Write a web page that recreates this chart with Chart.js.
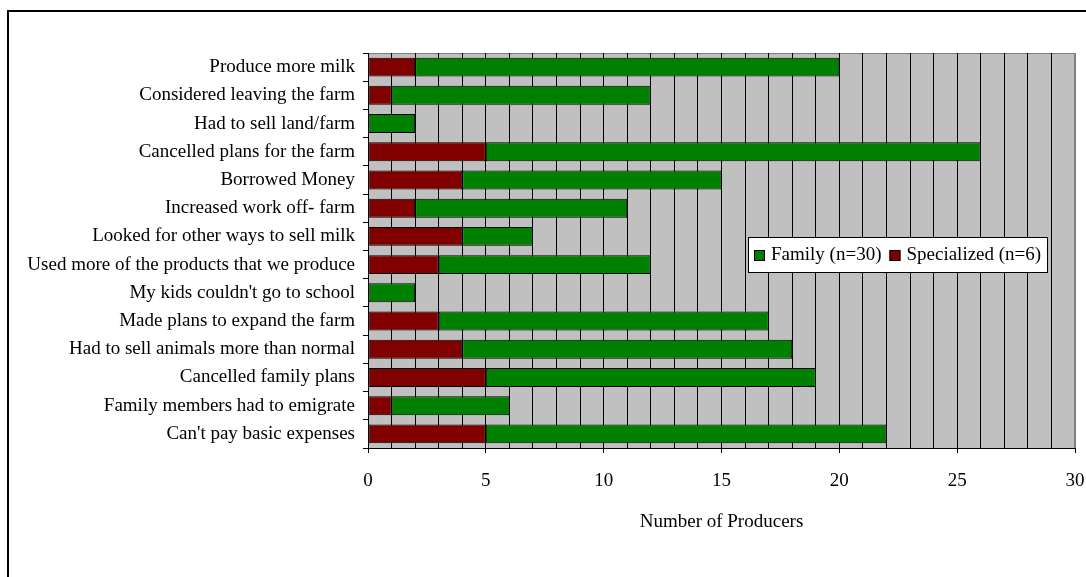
<!DOCTYPE html>
<html>
<head>
<meta charset="utf-8">
<script src="https://cdn.jsdelivr.net/npm/chart.js@4"></script>
<style>
  html, body { margin: 0; padding: 0; background: #fff; }
  #wrap { width: 1086px; height: 577px; position: relative; }
</style>
</head>
<body>
<div id="wrap"><canvas id="c" width="1086" height="577"></canvas></div>
<script>
// Responses of producers, by farm type
const categories = [
  "Produce more milk",
  "Considered leaving the farm",
  "Had to sell land/farm",
  "Cancelled plans for the farm",
  "Borrowed Money",
  "Increased work off- farm",
  "Looked for other ways to sell milk",
  "Used more of the products that we produce",
  "My kids couldn't go to school",
  "Made plans to expand the farm",
  "Had to sell animals more than normal",
  "Cancelled family plans",
  "Family members had to emigrate",
  "Can't pay basic expenses"
];
const specialized = [2, 1, 0, 5, 4, 2, 4, 3, 0, 3, 4, 5, 1, 5];
const family      = [18, 11, 2, 21, 11, 9, 3, 9, 2, 14, 14, 14, 5, 17];
const seriesLabels = ["Specialized (n=6)", "Family (n=30)"];
const xMin = 0, xMax = 30, xMinorStep = 1, xLabelStep = 5;
const xTitle = "Number of Producers";

const FONT = '"Liberation Serif", "Times New Roman", serif';
const FONT_SIZE = 19;

// White page with the outer frame and the grey plot area
const framePlugin = {
  id: 'frame',
  beforeDraw(chart) {
    const ctx = chart.ctx, a = chart.chartArea;
    ctx.save();
    ctx.fillStyle = '#fff';
    ctx.fillRect(0, 0, chart.width, chart.height);
    ctx.fillStyle = '#000';
    ctx.fillRect(7, 10, 2, chart.height - 10);
    ctx.fillRect(7, 10, chart.width - 7, 2);
    ctx.fillStyle = '#c0c0c0';
    ctx.fillRect(a.left, a.top, a.right - a.left, a.bottom - a.top);
    ctx.strokeStyle = '#808080';
    ctx.lineWidth = 1;
    ctx.beginPath();
    ctx.moveTo(a.left, a.top + 0.5);
    ctx.lineTo(a.right - 0.5, a.top + 0.5);
    ctx.lineTo(a.right - 0.5, a.bottom);
    ctx.stroke();
    ctx.restore();
  }
};

// Boxed legend inside the plot, Family listed first
const boxLegendPlugin = {
  id: 'boxLegend',
  afterDraw(chart) {
    const ctx = chart.ctx;
    const items = chart.data.datasets.slice().reverse();
    ctx.save();
    ctx.font = FONT_SIZE + 'px ' + FONT;
    const sw = 11, gap = 6, itemGap = 8, padX = 6, h = 35;
    let w = padX * 2;
    items.forEach((d, i) => {
      w += sw + gap + ctx.measureText(d.label).width + (i < items.length - 1 ? itemGap : 0);
    });
    w = Math.round(w);
    const left = 748, top = 237;
    ctx.fillStyle = '#fff';
    ctx.fillRect(left, top, w, h);
    ctx.strokeStyle = '#000';
    ctx.lineWidth = 1;
    ctx.strokeRect(left + 0.5, top + 0.5, w, h);
    let x = left + padX;
    const cy = top + h / 2 + 0.5;
    items.forEach((d) => {
      ctx.fillStyle = d.backgroundColor;
      ctx.fillRect(x, Math.round(cy - sw / 2), sw, sw);
      ctx.strokeStyle = '#000';
      ctx.strokeRect(x + 0.5, Math.round(cy - sw / 2) + 0.5, sw - 1, sw - 1);
      x += sw + gap;
      ctx.fillStyle = '#000';
      ctx.textBaseline = 'middle';
      ctx.textAlign = 'left';
      ctx.fillText(d.label, x, cy);
      x += ctx.measureText(d.label).width + itemGap;
    });
    ctx.restore();
  }
};

new Chart(document.getElementById('c'), {
  type: 'bar',
  data: {
    labels: categories,
    datasets: [
      {
        label: seriesLabels[0], data: specialized,
        backgroundColor: '#800000', borderColor: '#000', borderWidth: 1,
        borderSkipped: false, barPercentage: 0.67, categoryPercentage: 1
      },
      {
        label: seriesLabels[1], data: family,
        backgroundColor: '#008000', borderColor: '#000', borderWidth: 1,
        borderSkipped: false, barPercentage: 0.67, categoryPercentage: 1
      }
    ]
  },
  options: {
    indexAxis: 'y',
    responsive: false,
    devicePixelRatio: 1,
    animation: false,
    layout: { padding: { top: 53, right: 11, left: 0, bottom: 0 } },
    plugins: { legend: { display: false }, tooltip: { enabled: false } },
    scales: {
      x: {
        stacked: true, min: xMin, max: xMax,
        grid: {
          color: (c) => (c.tick && c.tick.value === xMax) ? '#808080' : '#000',
          tickColor: (c) => (c.tick && c.tick.value % xLabelStep === 0) ? '#000' : 'rgba(0,0,0,0)',
          tickLength: 5, lineWidth: 1
        },
        border: { color: '#000', width: 1 },
        ticks: {
          stepSize: xMinorStep, autoSkip: false, maxRotation: 0, padding: 17,
          color: '#000', font: { family: FONT, size: FONT_SIZE },
          callback: (v) => (v % xLabelStep === 0 ? String(v) : '')
        },
        title: {
          display: true, text: xTitle, color: '#000',
          font: { family: FONT, size: FONT_SIZE }, padding: { top: 0, bottom: 44 }
        },
        afterFit(s) { s.height = 129; s.paddingLeft = 0; s.paddingRight = 0; }
      },
      y: {
        stacked: true,
        grid: { drawOnChartArea: false, offset: true, tickLength: 5, color: '#000', tickColor: '#000' },
        border: { color: '#000', width: 1 },
        ticks: { autoSkip: false, color: '#000', font: { family: FONT, size: FONT_SIZE }, padding: 8 },
        afterFit(s) { s.width = 368; }
      }
    }
  },
  plugins: [framePlugin, boxLegendPlugin]
});
</script>
</body>
</html>
